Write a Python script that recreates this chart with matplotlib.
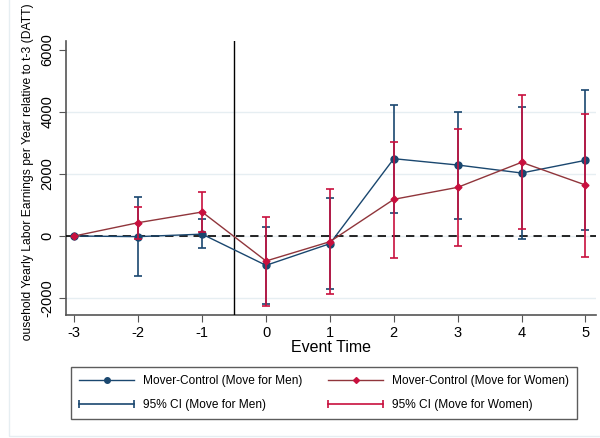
import numpy as np
import matplotlib
matplotlib.use('Agg')
import matplotlib.pyplot as plt
from matplotlib.lines import Line2D
from matplotlib.legend_handler import HandlerLine2D
from matplotlib.patches import Rectangle
from matplotlib.transforms import Bbox

plt.rcParams['font.family'] = ['Liberation Sans', 'DejaVu Sans']
plt.rcParams['axes.unicode_minus'] = False

event_time = [-3, -2, -1, 0, 1, 2, 3, 4, 5]

men_est = [0, -20, 60, -946, -248, 2494, 2290, 2032, 2441]
men_lo = [0, -1290, -376, -2194, -1720, 752, 559, -97, 183]
men_hi = [0, 1248, 538, 290, 1236, 4236, 4010, 4150, 4710]

women_est = [0, 430, 774, -806, -183, 1183, 1570, 2377, 1645]
women_lo = [0, -86, 140, -2258, -1860, -699, -312, 215, -677]
women_hi = [0, 946, 1430, 624, 1505, 3043, 3452, 4559, 3946]

y_ticks = [-2000, 0, 2000, 4000, 6000]

c_men = '#1a476f'
c_women_line = '#90353b'
c_women_ci = '#c8103e'

fig = plt.figure(figsize=(6, 4.38), dpi=100)
ax = fig.add_axes([65.7/600, 1-315/438, 530/600, 274/438])

ax.set_xlim(-3.135, 5.16)
ax.set_ylim(-2548, 6290)

x = np.array(event_time)

ax.plot(x, men_est, c=c_men, lw=1.0, marker='o', markersize=5, zorder=4)
ax.vlines(x[1:], np.array(men_lo)[1:], np.array(men_hi)[1:], colors=c_men, lw=1.2, zorder=4)
ax.plot(x[1:], np.array(men_lo)[1:], ls='none', marker='_', markersize=6, mew=1.2, c=c_men, zorder=4)
ax.plot(x[1:], np.array(men_hi)[1:], ls='none', marker='_', markersize=6, mew=1.2, c=c_men, zorder=4)

ax.plot(x, women_est, c=c_women_line, lw=1.0, zorder=5)
ax.plot(x, women_est, ls='none', marker='D', markersize=3.5, c=c_women_ci, zorder=6)
ax.vlines(x[1:], np.array(women_lo)[1:], np.array(women_hi)[1:], colors=c_women_ci, lw=1.2, zorder=5)
ax.plot(x[1:], np.array(women_lo)[1:], ls='none', marker='_', markersize=6, mew=1.2, c=c_women_ci, zorder=5)
ax.plot(x[1:], np.array(women_hi)[1:], ls='none', marker='_', markersize=6, mew=1.2, c=c_women_ci, zorder=5)

ax.axhline(0, c='k', lw=1.2, ls=(0, (5, 3.5)), zorder=3)
ax.axvline(-0.5, c='k', lw=1.0, zorder=3)

ax.set_xticks(event_time)
ax.set_yticks(y_ticks)
ax.set_yticklabels([str(v) for v in y_ticks], rotation=90, va='center')
ax.tick_params(axis='both', labelsize=10.5, length=5, width=0.8, color='#555555')
ax.tick_params(axis='x', pad=3)
ax.tick_params(axis='y', pad=3)
ax.grid(axis='y', c='#e6eef2', lw=1.0, zorder=0)
ax.get_ygridlines()[-1].set_visible(False)

for spi in ['top', 'right']:
    ax.spines[spi].set_visible(False)
for spi in ['bottom', 'left']:
    ax.spines[spi].set_linewidth(1.2)
    ax.spines[spi].set_color('#555555')

ax.set_xlabel('Event Time', fontsize=11.5, labelpad=0)

ylab = fig.text(28/600, 1-3/438, 'Household Yearly Labor Earnings per Year relative to t-3 (DATT)',
                rotation=90, va='top', ha='center', fontsize=8.7)
ylab.set_clip_box(Bbox.from_extents(0, 438-342, 600, 438))
ylab.set_clip_on(True)

h1 = Line2D([], [], c=c_men, lw=1.0, marker='o', markersize=4)
h2 = Line2D([], [], c=c_women_line, lw=1.0, marker='D', markersize=3, markerfacecolor=c_women_ci, markeredgecolor=c_women_ci)
h3 = Line2D([], [], c=c_men, lw=1.2, marker='|', markersize=6, mew=1.2)
h4 = Line2D([], [], c=c_women_ci, lw=1.2, marker='|', markersize=6, mew=1.2)

leg = fig.legend([h1, h3, h2, h4],
                 ['Mover-Control (Move for Men)', '95% CI (Move for Men)',
                  'Mover-Control (Move for Women)', '95% CI (Move for Women)'],
                 ncol=2, loc='upper left', bbox_to_anchor=(71/600, 1-367/438),
                 fontsize=8.6, handlelength=4.6, handletextpad=0.7, columnspacing=2.2,
                 labelspacing=0.95, borderpad=0.7, borderaxespad=0, fancybox=False,
                 handler_map={h1: HandlerLine2D(numpoints=1), h2: HandlerLine2D(numpoints=1),
                              h3: HandlerLine2D(numpoints=2, marker_pad=0), h4: HandlerLine2D(numpoints=2, marker_pad=0)})
leg.get_frame().set_edgecolor('#333333')
leg.get_frame().set_linewidth(1.0)

fig.patches.append(Rectangle((9/600, 2/438), 1.0, 1.0, transform=fig.transFigure,
                             fill=False, ec='#e6eef2', lw=1.0))

fig.savefig('out.png', dpi=100)
